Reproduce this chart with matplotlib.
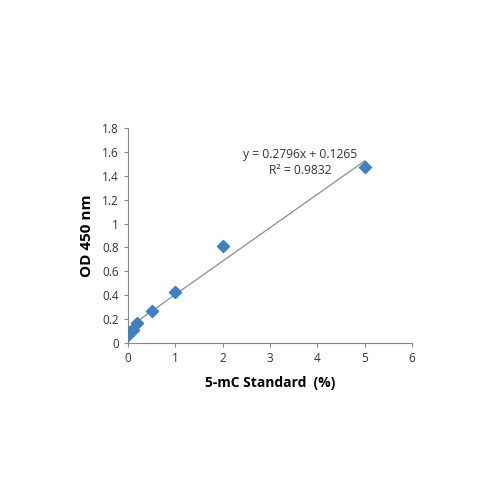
import numpy as np
import matplotlib
matplotlib.use("Agg")
import matplotlib.pyplot as plt

plt.rcParams.update({"font.family": "Open Sans", "font.size": 8.5})

conc = [0, 0.05, 0.1, 0.2, 0.5, 1, 2, 5]
od450 = [0.07, 0.09, 0.11, 0.17, 0.27, 0.43, 0.81, 1.47]
slope, intercept = 0.2796, 0.1265
xticks = [0, 1, 2, 3, 4, 5, 6]
yticks = [0, 0.2, 0.4, 0.6, 0.8, 1, 1.2, 1.4, 1.6, 1.8]
ylabels = ["0", "0.2", "0.4", "0.6", "0.8", "1", "1.2", "1.4", "1.6", "1.8"]

fig = plt.figure(figsize=(5, 5), dpi=100)
ax = fig.add_axes([0.256, 0.314, 0.568, 0.43])

xs = np.array([0, 5])
ax.plot(xs, slope * xs + intercept, color="#8c8c8c", lw=0.9, zorder=2)
ax.scatter(conc, od450, marker="D", s=38, color="#3f7fc2", zorder=3)

ax.set_xlim(0, 6)
ax.set_ylim(0, 1.8)
ax.set_xticks(xticks)
ax.set_yticks(yticks)
ax.set_yticklabels(ylabels)
for s in ["top", "right"]:
    ax.spines[s].set_visible(False)
for s in ["left", "bottom"]:
    ax.spines[s].set_color("#888888")
    ax.spines[s].set_linewidth(0.8)
ax.tick_params(direction="out", length=3, width=0.8, color="#888888", labelcolor="#333333")
ax.set_xlabel("5-mC Standard  (%)", fontweight="bold", fontsize=10, labelpad=8)
ax.set_ylabel("OD 450 nm", fontweight="bold", fontsize=11, labelpad=6)

ax.text(3.64, 1.58, "y = 0.2796x + 0.1265", ha="center", va="center", fontsize=8.7, color="#333333")
ax.text(3.64, 1.44, "R² = 0.9832", ha="center", va="center", fontsize=8.7, color="#333333")

fig.savefig("out.png")
